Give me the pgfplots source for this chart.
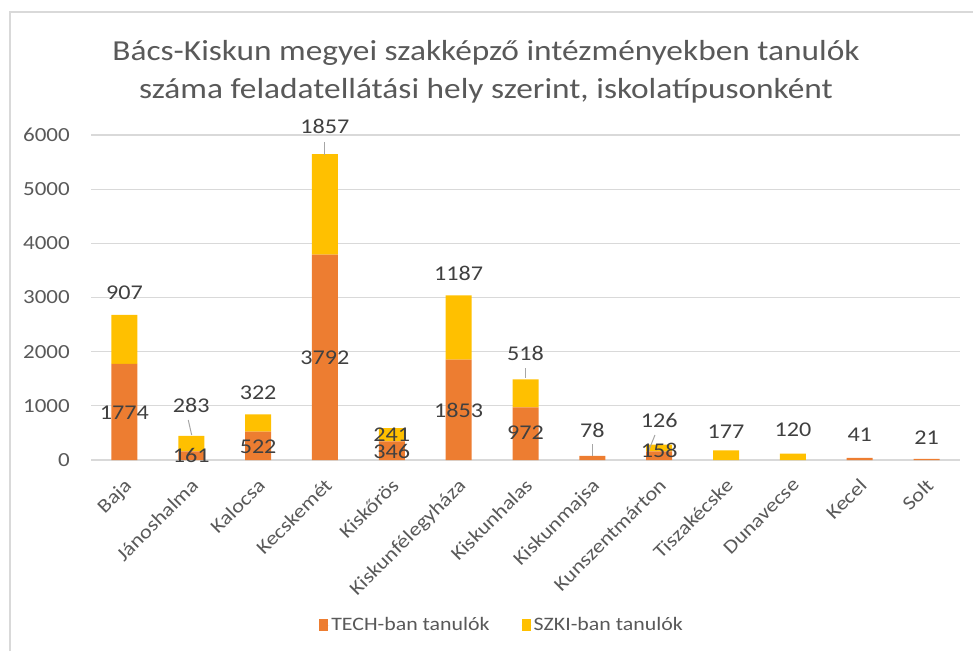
\documentclass[border=0pt]{standalone}
\usepackage{pgfplots}
\pgfplotsset{compat=1.18}
\usepackage{fontspec}
\setmainfont{Carlito}[FakeStretch=1.15]
\definecolor{tech}{HTML}{ED7D31}
\definecolor{szki}{HTML}{FFC000}
\definecolor{gridc}{HTML}{D9D9D9}
\definecolor{txt}{HTML}{595959}
\definecolor{lbl}{HTML}{404040}
\definecolor{lead}{HTML}{A6A6A6}
\pgfplotsset{base/.style={
  width=869pt, height=325pt, scale only axis,
  xmin=-0.5, xmax=12.5, ymin=0, ymax=6000,
  at={(0pt,0pt)}, anchor=south west}}
\begin{document}
\begin{tikzpicture}
\path[use as bounding box] (-91pt,-191pt) rectangle (882pt,460pt);
\draw[gridc, line width=1.5pt] (-81pt,-191pt) -- (-81pt,448pt) -- (882pt,448pt);
\begin{axis}[base,
  ybar stacked, bar width=26pt,
  axis x line*=bottom, axis y line*=left,
  x axis line style={gridc, line width=1.3pt, -},
  y axis line style={draw=none},
  major tick length=0pt,
  xtick={0,...,12},
  xticklabels={Baja,Jánoshalma,Kalocsa,Kecskemét,Kiskőrös,Kiskunfélegyháza,Kiskunhalas,Kiskunmajsa,Kunszentmárton,Tiszakécske,Dunavecse,Kecel,Solt},
  ytick={0,1000,...,6000},
  yticklabels={0,1000,2000,3000,4000,5000,6000},
  scaled y ticks=false,
  /pgf/number format/1000 sep={},
  /pgf/number format/assume math mode=true,
  ymajorgrids, grid style={gridc, line width=1.3pt},
  yticklabel style={font=\fontsize{20}{24}\selectfont, text=txt, inner sep=0pt, xshift=-21pt},
  xticklabel style={font=\fontsize{19.5}{24}\selectfont, text=txt, rotate=45, anchor=north east, inner sep=0pt, xshift=-13pt, yshift=-11pt},
  legend style={at={(axis description cs:0.473,-0.508)}, anchor=center, draw=none,
    legend columns=2, font=\fontsize{19}{24}\selectfont, text=txt,
    /tikz/every even column/.append style={column sep=30pt}},
  legend image code/.code={\fill[#1] (0pt,-6pt) rectangle (9pt,6pt); \path (0pt,0pt) -- (10pt,0pt);},
]
\addplot[fill=tech, draw=none] coordinates {
(0,1774) (1,161) (2,522) (3,3792) (4,346) (5,1853) (6,972) (7,78) (8,158) (9,0) (10,0) (11,41) (12,21)};
\addlegendentry{TECH-ban tanulók}
\addplot[fill=szki, draw=none] coordinates {
(0,907) (1,283) (2,322) (3,1857) (4,241) (5,1187) (6,518) (7,0) (8,126) (9,177) (10,120) (11,0) (12,0)};
\addlegendentry{SZKI-ban tanulók}
\end{axis}
\begin{axis}[base, hide axis, clip=false]
\addplot[lead, line width=1pt] coordinates {(0.955,738) (1.006,462)};
\addplot[lead, line width=1pt] coordinates {(3,5871) (3,5631)};
\addplot[lead, line width=1pt] coordinates {(6,1698) (6,1514)};
\addplot[lead, line width=1pt] coordinates {(7,295) (7,80)};
\addplot[lead, line width=1pt] coordinates {(7.937,462) (7.837,153)};
\addplot[only marks, mark=none, nodes near coords, point meta=explicit symbolic,
  every node near coord/.append style={anchor=center, inner sep=0pt, text=lbl, font=\fontsize{21}{25}\selectfont}]
  table[meta=label] {
x y label
0 870 1774
1 80 161
2 250 522
3 1883 3792
4 150 346
5 923 1853
6 498 972
7 554 78
8 185 158
11 462 41
12 406 21
0 3083 907
1 1015 283
2 1237 322
3 6150 1857
4 460 241
5 3452 1187
6 1975 518
8 738 126
9 517 177
10 554 120
};
\end{axis}
\node[align=center, text=txt, font=\fontsize{29}{38}\selectfont] at (395pt,388pt)
  {Bács-Kiskun megyei szakképző intézményekben tanulók\\száma feladatellátási hely szerint, iskolatípusonként};
\end{tikzpicture}
\end{document}
